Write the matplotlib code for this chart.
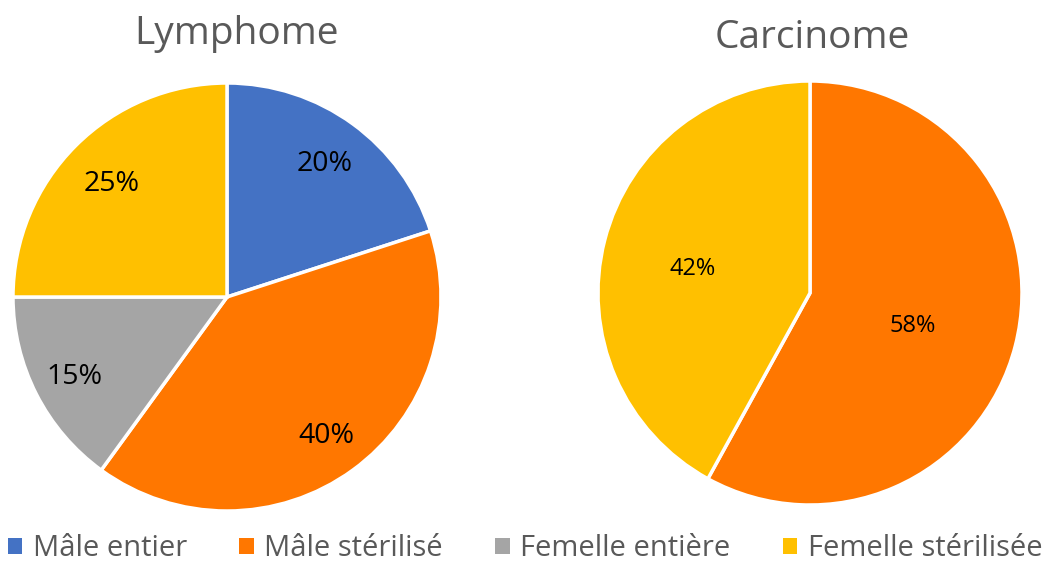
import matplotlib.pyplot as plt
from matplotlib.patches import Patch
import numpy as np

plt.rcParams['font.family'] = ['Open Sans', 'DejaVu Sans']

# Données
categories = ['Mâle entier', 'Mâle stérilisé', 'Femelle entière', 'Femelle stérilisée']
couleurs = ['#4472C4', '#FF7700', '#A5A5A5', '#FFC000']
lymphome = [20, 40, 15, 25]
carcinome = [0, 58, 0, 42]

W, H = 1043, 562
fig = plt.figure(figsize=(W / 100, H / 100), dpi=100)


def dessiner(ax, valeurs, taille, dist, dy):
    vals = [v for v in valeurs if v > 0]
    cols = [c for v, c in zip(valeurs, couleurs) if v > 0]
    wedges, texts = ax.pie(vals, colors=cols, startangle=90, counterclock=False,
                           radius=1, wedgeprops=dict(edgecolor='white', linewidth=2.5))
    for w, v, d in zip(wedges, vals, dist):
        ang = np.radians((w.theta1 + w.theta2) / 2)
        ax.text(d * np.cos(ang), d * np.sin(ang) + dy, f'{v}%', ha='center', va='center',
                fontsize=taille, color='black')
    ax.set_xlim(-1, 1)
    ax.set_ylim(-1, 1)
    ax.set_aspect('equal')
    ax.axis('off')


# camembert gauche
ax1 = fig.add_axes([13 / W, 51 / H, 428 / W, 428 / H])
dessiner(ax1, lymphome, 20.5, [0.78, 0.79, 0.80, 0.76], -0.01)
fig.text(236 / W, 1 - 34 / H, 'Lymphome', ha='center', va='center', fontsize=28, color='#595959')

# camembert droit
ax2 = fig.add_axes([598 / W, 57 / H, 424 / W, 424 / H])
dessiner(ax2, carcinome, 17, [0.50, 0.57], -0.03)
fig.text(812 / W, 1 - 38 / H, 'Carcinome', ha='center', va='center', fontsize=28, color='#595959')

handles = [Patch(facecolor=c, edgecolor='none') for c in couleurs]
fig.legend(handles, categories, loc='center', bbox_to_anchor=(525 / W, 1 - 549 / H), ncol=4,
           frameon=False, fontsize=21, labelcolor='#595959', handlelength=0.5, handleheight=0.5,
           handletextpad=0.35, columnspacing=1.8)

fig.savefig('out.png', dpi=100)
